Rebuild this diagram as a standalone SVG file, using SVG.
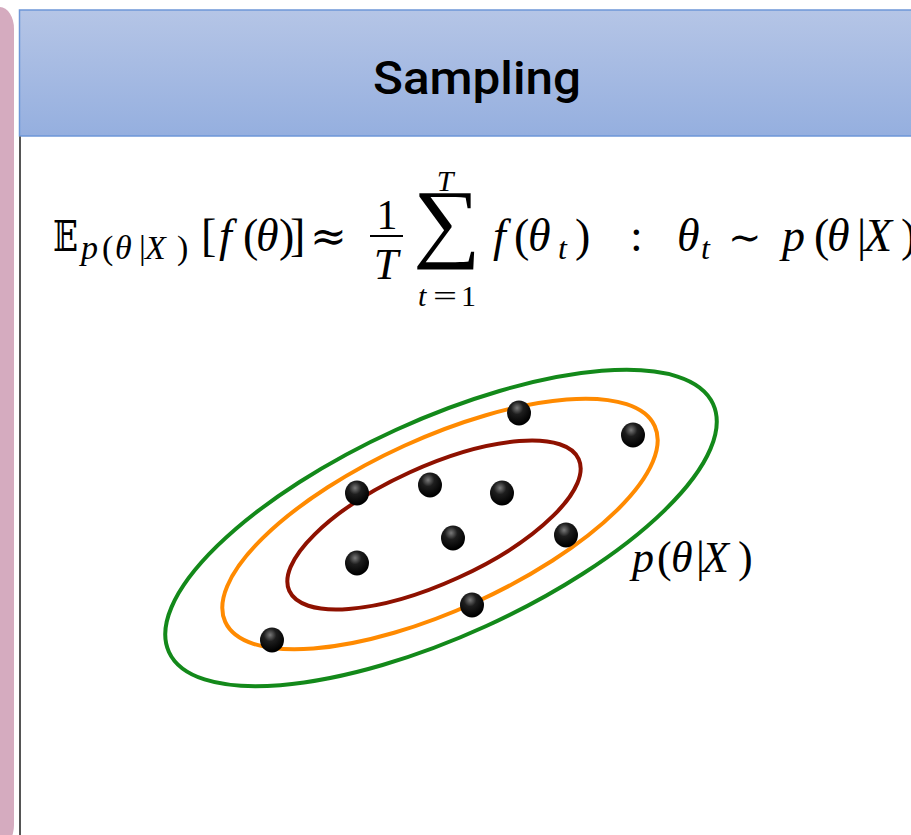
<svg xmlns="http://www.w3.org/2000/svg" width="911" height="835" viewBox="0 0 911 835">
<defs>
<linearGradient id="hdr" x1="0" y1="0" x2="0" y2="1">
<stop offset="0" stop-color="#b5c5e6"/>
<stop offset="1" stop-color="#95afdf"/>
</linearGradient>
<radialGradient id="dot" cx="0.42" cy="0.3" r="0.65">
<stop offset="0" stop-color="#7a7a7a"/>
<stop offset="0.4" stop-color="#1e1e1e"/>
<stop offset="1" stop-color="#000"/>
</radialGradient>
<style>
.m{font-family:"Liberation Serif","Times New Roman",serif;fill:#000}
.i{font-style:italic}
.sym{font-family:"DejaVu Serif","Liberation Serif",serif}
.ell{fill:none;stroke-width:4}
.d{fill:url(#dot)}
</style>
</defs>
<rect width="911" height="835" fill="#fff"/>
<g id="side-strip">
<rect x="-16" y="7" width="30" height="840" rx="14" ry="22" fill="#d5abbf"/>
</g>
<g id="header">
<rect x="19.5" y="10" width="900" height="126" fill="url(#hdr)" stroke="#6d96d8" stroke-width="1.5"/>
<text x="477" y="94" text-anchor="middle" font-family="Roboto,'Liberation Sans',sans-serif" font-weight="500" font-size="46" textLength="208" lengthAdjust="spacingAndGlyphs" fill="#000">Sampling</text>
</g>
<g id="body">
<line x1="20" y1="136.5" x2="20" y2="835" stroke="#555" stroke-width="2"/>
</g>
<g id="formula" class="m" font-size="46">
<text x="53" y="251" class="sym" font-size="42" textLength="25" lengthAdjust="spacingAndGlyphs">𝔼</text>
<text y="259" font-size="34"><tspan x="81" class="i">p</tspan><tspan x="102">(</tspan><tspan x="115" class="i">θ</tspan><tspan x="139">|</tspan><tspan x="145" class="i">X</tspan><tspan x="177">)</tspan></text>
<text y="251"><tspan x="201">[</tspan><tspan x="219" class="i">f</tspan><tspan x="243">(</tspan><tspan x="256" class="i">θ</tspan><tspan x="279">)</tspan><tspan x="290">]</tspan></text>
<text x="310" y="251" class="sym" font-size="44">≈</text>
<text x="387" y="229" text-anchor="middle" font-size="42">1</text>
<line x1="370" y1="236" x2="403" y2="236" stroke="#000" stroke-width="1.8"/>
<text x="386" y="279" text-anchor="middle" class="i" font-size="44">T</text>
<text x="445" y="191" text-anchor="middle" class="i" font-size="30">T</text>
<text x="447" y="251" text-anchor="middle" font-size="88" transform="translate(447 0) scale(1.08 1) translate(-447 0)">∑</text>
<text x="418" y="306" font-size="30" class="i">t</text>
<text x="433" y="306" font-size="30" textLength="24" lengthAdjust="spacingAndGlyphs">=</text>
<text x="461" y="306" font-size="30">1</text>
<text y="251"><tspan x="493" class="i">f</tspan><tspan x="514">(</tspan><tspan x="528" class="i">θ</tspan><tspan x="575">)</tspan></text>
<text x="558" y="259" class="i" font-size="32">t</text>
<text x="630" y="251">:</text>
<text x="677" y="251" class="i">θ</text>
<text x="701" y="259" class="i" font-size="32">t</text>
<text x="728" y="251" class="sym" font-size="40">∼</text>
<text y="251"><tspan x="782" class="i">p</tspan><tspan x="814">(</tspan><tspan x="827" class="i">θ</tspan><tspan x="857">|</tspan><tspan x="864" class="i">X</tspan><tspan x="901">)</tspan></text>
</g>
<g id="contours">
<ellipse id="green" class="ell" cx="441" cy="528" rx="299" ry="108" transform="rotate(-24.5 441 528)" stroke="#13891a"/>
<ellipse id="orange" class="ell" cx="440" cy="524" rx="236" ry="86" transform="rotate(-24.5 440 524)" stroke="#ff8a00"/>
<ellipse id="darkred" class="ell" cx="434" cy="525" rx="159" ry="58" transform="rotate(-24.5 434 525)" stroke="#8e1100"/>
</g>
<g id="samples">
<ellipse class="d" cx="519" cy="413" rx="12" ry="12.5"/>
<ellipse class="d" cx="633" cy="435" rx="12" ry="12.5"/>
<ellipse class="d" cx="357" cy="493" rx="12" ry="12.5"/>
<ellipse class="d" cx="430" cy="485" rx="12" ry="12.5"/>
<ellipse class="d" cx="502" cy="493" rx="12" ry="12.5"/>
<ellipse class="d" cx="453" cy="538" rx="12" ry="12.5"/>
<ellipse class="d" cx="566" cy="535" rx="12" ry="12.5"/>
<ellipse class="d" cx="357" cy="563" rx="12" ry="12.5"/>
<ellipse class="d" cx="472" cy="605" rx="12" ry="12.5"/>
<ellipse class="d" cx="272" cy="640" rx="12" ry="12.5"/>
</g>
<g id="label" class="m" font-size="44">
<text y="572"><tspan x="632" class="i">p</tspan><tspan x="657">(</tspan><tspan x="671" class="i">θ</tspan><tspan x="696">|</tspan><tspan x="702" class="i">X</tspan><tspan x="738">)</tspan></text>
</g>
<g id="connectors"/>
</svg>
